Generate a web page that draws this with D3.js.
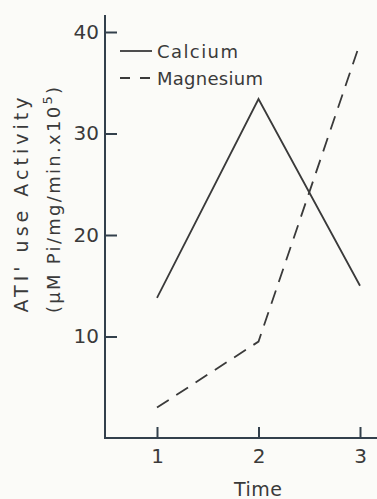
<!DOCTYPE html>
<html>
<head>
<meta charset="utf-8">
<style>
  body { margin: 0; background: #fbfbf8; }
  svg { display: block; font-family: "DejaVu Sans", sans-serif; }
</style>
</head>
<body>
<svg width="377" height="499"></svg>
<script src="https://d3js.org/d3.v7.min.js"></script>
<script>
const times = [1, 2, 3];
const calcium = [13.8, 33.4, 15.0];
const magnesium = [3.0, 9.5, 38.9];
const yTicks = [10, 20, 30, 40];
const seriesNames = ["Calcium", "Magnesium"];

const ink = "#3a3a3a";
const axisInk = "#33404c";

const svg = d3.select("svg");

const x = d3.scaleLinear().domain([1, 3]).range([157, 360]);
const y = d3.scaleLinear().domain([0, 40]).range([438, 32]);

// axis lines drawn by hand so they run past the ticks like the original
svg.append("line")
    .attr("x1", 105).attr("x2", 105).attr("y1", 15).attr("y2", 439)
    .attr("stroke", axisInk).attr("stroke-width", 2);
svg.append("line")
    .attr("x1", 104).attr("x2", 377).attr("y1", y(0)).attr("y2", y(0))
    .attr("stroke", axisInk).attr("stroke-width", 2);

const yAxis = svg.append("g")
    .attr("transform", "translate(105,0)")
    .call(d3.axisLeft(y).tickValues(yTicks).tickSize(-12).tickPadding(6));
const xAxis = svg.append("g")
    .attr("transform", `translate(0,${y(0)})`)
    .call(d3.axisBottom(x).tickValues(times).tickFormat(d3.format("d")).tickSize(-11).tickPadding(11));

[yAxis, xAxis].forEach(g => {
    g.select(".domain").remove();
    g.selectAll(".tick line").attr("stroke", axisInk).attr("stroke-width", 2);
    g.selectAll(".tick text")
        .attr("fill", ink)
        .style("font-size", "20px")
        .style("font-family", "DejaVu Sans, sans-serif");
});

const line = d3.line()
    .x((d, i) => x(times[i]))
    .y(d => y(d));

svg.append("path")
    .datum(calcium)
    .attr("d", line)
    .attr("fill", "none")
    .attr("stroke", ink)
    .attr("stroke-width", 1.8);

svg.append("path")
    .datum(magnesium)
    .attr("d", line)
    .attr("fill", "none")
    .attr("stroke", ink)
    .attr("stroke-width", 1.8)
    .attr("stroke-dasharray", "14 9");

// legend
const legend = svg.append("g");
seriesNames.forEach((name, i) => {
    const ly = 51 + i * 27;
    legend.append("line")
        .attr("x1", 120).attr("x2", 152)
        .attr("y1", ly).attr("y2", ly)
        .attr("stroke", ink).attr("stroke-width", 1.8)
        .attr("stroke-dasharray", i ? "10 10" : null);
    legend.append("text")
        .attr("x", 157).attr("y", ly + 7)
        .attr("fill", ink)
        .attr("textLength", i ? 106 : 81)
        .attr("lengthAdjust", "spacing")
        .style("font-size", "18px")
        .text(name);
});

// axis titles
svg.append("text")
    .attr("x", 258).attr("y", 496)
    .attr("text-anchor", "middle")
    .attr("fill", ink)
    .attr("textLength", 48)
    .attr("lengthAdjust", "spacing")
    .style("font-size", "19px")
    .text("Time");

svg.append("text")
    .attr("transform", "translate(28,205) rotate(-90)")
    .attr("text-anchor", "middle")
    .attr("fill", ink)
    .attr("textLength", 215)
    .attr("lengthAdjust", "spacing")
    .style("font-size", "19px")
    .text("ATI' use Activity");

const t2 = svg.append("text")
    .attr("transform", "translate(60,200) rotate(-90)")
    .attr("text-anchor", "middle")
    .attr("fill", ink)
    .attr("textLength", 226)
    .attr("lengthAdjust", "spacing")
    .style("font-size", "18px");
t2.append("tspan").text("(\u03BCM Pi/mg/min.x10");
t2.append("tspan").attr("dy", -8).style("font-size", "13px").text("5");
t2.append("tspan").attr("dy", 8).text(")");
</script>
</body>
</html>
